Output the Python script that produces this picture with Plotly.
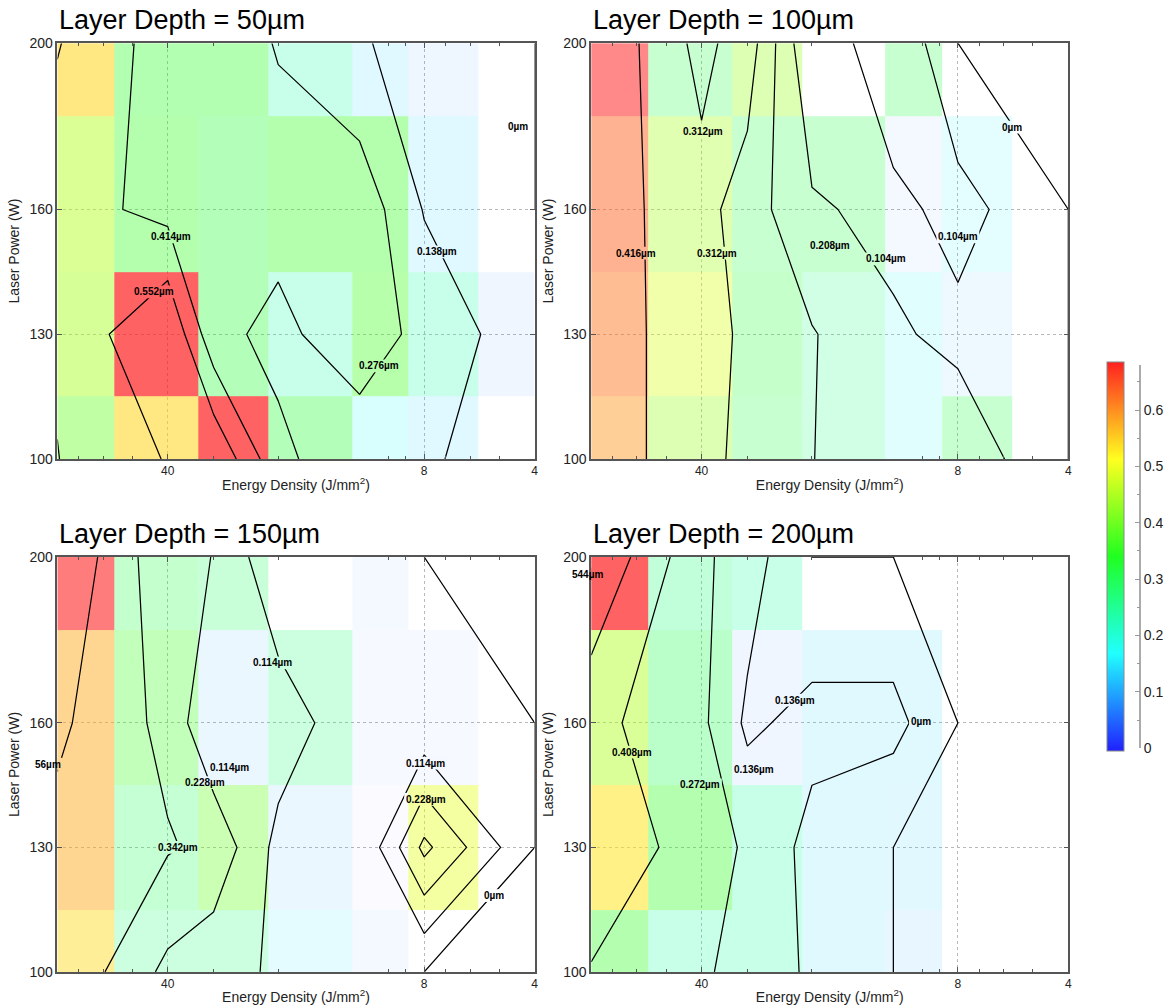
import numpy as np
import plotly.graph_objects as go

# ---------------------------------------------------------------------------
# Data
# ---------------------------------------------------------------------------
# Cell boundaries of the measured map: energy density (J/mm^2), laser power (W)
energy_edges = [80, 56, 33, 21.3, 12.6, 8.85, 5.69, 4]
power_edges = [100, 115, 145, 182.5, 200]

# Node grid of the fitted surface used for the iso-lines
energy_nodes = [80, 40, 30, 20, 12, 8, 4]
power_nodes = [100, 130, 160, 200]

# Measured deviation (µm) per cell; rows = 100, 130, 160, 200 W,
# columns from high to low energy density
cells_50 = [
    [0.40, 0.55, 0.69, 0.33, 0.17, 0.135, 0.00],
    [0.45, 0.69, 0.33, 0.24, 0.37, 0.24, 0.07],
    [0.46, 0.36, 0.33, 0.36, 0.36, 0.135, 0.00],
    [0.55, 0.35, 0.35, 0.24, 0.135, 0.074, 0.00],
]
cells_100 = [
    [0.45, 0.33, 0.24, 0.20, 0.135, 0.24, 0.00],
    [0.47, 0.37, 0.25, 0.20, 0.135, 0.08, 0.00],
    [0.48, 0.34, 0.24, 0.24, 0.05, 0.12, 0.00],
    [0.52, 0.24, 0.33, 0.00, 0.24, 0.00, 0.00],
]
cells_150 = [
    [0.45, 0.23, 0.23, 0.12, 0.05, 0.00, 0.00],
    [0.48, 0.25, 0.33, 0.09, 0.02, 0.41, 0.00],
    [0.48, 0.30, 0.09, 0.23, 0.04, 0.04, 0.00],
    [0.57, 0.26, 0.24, 0.00, 0.05, 0.00, 0.00],
]
cells_200 = [
    [0.35, 0.24, 0.24, 0.135, 0.10, 0.00, 0.00],
    [0.53, 0.35, 0.24, 0.135, 0.13, 0.00, 0.00],
    [0.45, 0.30, 0.07, 0.135, 0.135, 0.00, 0.00],
    [0.68, 0.27, 0.24, 0.00, 0.00, 0.00, 0.00],
]

# Fitted surface (µm) at the node grid; rows = 100, 130, 160, 200 W
surface_50 = [
    [0.411, 0.561, 0.683, 0.31, 0.175, 0.17, 0.00],
    [0.43, 0.69, 0.317, 0.237, 0.37, 0.225, 0.055],
    [0.478, 0.37, 0.35, 0.33, 0.368, 0.13, 0.00],
    [0.56, 0.35, 0.35, 0.268, 0.144, 0.114, 0.00],
]
surface_100 = [
    [0.45, 0.382, 0.25, 0.21, 0.15, 0.18, 0.00],
    [0.47, 0.362, 0.288, 0.215, 0.12, 0.075, 0.00],
    [0.478, 0.349, 0.26, 0.12, 0.07, 0.145, 0.00],
    [0.52, 0.28, 0.37, 0.00, 0.205, 0.00, 0.00],
]
surface_150 = [
    [0.45, 0.20, 0.15, 0.10, 0.05, 0.00, 0.00],
    [0.42, 0.352, 0.312, 0.08, 0.00, 0.37, 0.00],
    [0.479, 0.31, 0.12, 0.177, 0.037, 0.026, 0.00],
    [0.57, 0.258, 0.226, 0.02, 0.03, 0.00, 0.00],
]
surface_200 = [
    [0.40, 0.30, 0.20, 0.12, 0.00, 0.00, 0.00],
    [0.50, 0.35, 0.25, 0.092, 0.00, 0.00, 0.00],
    [0.45, 0.30, 0.11, 0.18, 0.18, 0.00, 0.00],
    [0.68, 0.30, 0.20, 0.00, 0.00, 0.00, 0.00],
]

# Iso-line label anchors: (energy density, laser power, text[, anchor])
labels_50 = [(39.2, 153.4, "0.414µm"), (43.6, 140.2, "0.552µm"),
             (7.37, 149.8, "0.138µm"), (10.6, 122.4, "0.276µm"),
             (4.43, 179.9, "0µm")]
labels_100 = [(39.7, 178.8, "0.312µm"), (60.5, 149.5, "0.416µm"),
              (36.4, 149.5, "0.312µm"), (17.9, 151.4, "0.208µm"),
              (12.6, 148.1, "0.104µm"), (8.0, 153.4, "0.104µm"),
              (5.68, 179.8, "0µm")]
labels_150 = [(20.7, 174.5, "0.114µm"), (27.1, 149.2, "0.114µm"),
              (31.7, 145.6, "0.228µm"), (37.5, 130.0, "0.342µm"),
              (77.6, 150.1, "56µm", "right"), (7.93, 150.3, "0.114µm"),
              (7.93, 141.6, "0.228µm"), (5.15, 118.4, "0µm")]
labels_200 = [(73.9, 195.9, "544µm", "right"), (62.0, 153.0, "0.408µm"),
              (40.3, 145.1, "0.272µm"), (28.8, 148.7, "0.136µm"),
              (22.2, 165.5, "0.136µm"), (10.1, 160.3, "0µm")]

titles = ["Layer Depth = 50µm", "Layer Depth = 100µm",
          "Layer Depth = 150µm", "Layer Depth = 200µm"]

# ---------------------------------------------------------------------------
# Styling helpers
# ---------------------------------------------------------------------------
FONT = "Liberation Sans, Arial, sans-serif"
LABEL_SIZE = 10
CBAR_MAX = 0.68
PEAK_ALPHA = 0.7

RAINBOW = [(0.0, (32, 32, 255)), (0.25, (32, 255, 255)), (0.5, (32, 255, 32)),
           (0.75, (255, 255, 32)), (1.0, (255, 32, 32))]


def rainbow(t):
    t = min(max(t, 0.0), 1.0)
    for (t0, c0), (t1, c1) in zip(RAINBOW[:-1], RAINBOW[1:]):
        if t <= t1:
            f = (t - t0) / (t1 - t0)
            return tuple(int(round(a + (b - a) * f)) for a, b in zip(c0, c1))
    return RAINBOW[-1][1]


def cell_alpha(value):
    return PEAK_ALPHA * min(value / CBAR_MAX, 1.0)


def faded_scale(zmax, n=26):
    """Rainbow scale over 0..zmax whose opacity grows with the value."""
    out = []
    for t in np.linspace(0, 1, n):
        r, g, b = rainbow(t)
        out.append([float(t), f"rgba({r},{g},{b},{cell_alpha(t * zmax):.3f})"])
    return out


def flat_colour(value, zmax):
    """The cell colour as it appears over the white plot background."""
    r, g, b = rainbow(value / zmax)
    a = cell_alpha(value)
    return "rgb(%d,%d,%d)" % tuple(int(round(255 * (1 - a) + c * a))
                                   for c in (r, g, b))


# Bold label glyph widths (em)
GLYPH_EM = {".": 0.278, "µ": 0.611, "m": 0.889}


def text_px(txt):
    return LABEL_SIZE * sum(GLYPH_EM.get(c, 0.556) for c in txt)


solid_scale = [[float(t), "rgb(%d,%d,%d)" % rainbow(t)]
               for t in np.linspace(0, 1, 21)]

# Page geometry (pixels from the top-left corner)
W, H = 1170, 1005
PANEL_X = [(57.5, 536.5), (593.2, 1072.0)]
PANEL_Y = [(35.7, 458.3), (557.9, 979.5)]     # (top, bottom)
TITLE_GAP = 23.4
CBAR_LEFT, CBAR_AXIS = 1110.8, 1143.2
CBAR_TOP, CBAR_BOTTOM = 362.8, 752.2

X_LOG = (np.log10(4), np.log10(80))
PX_PER_DECADE = (PANEL_X[0][1] - PANEL_X[0][0]) / (X_LOG[1] - X_LOG[0])
PX_PER_WATT = (PANEL_Y[0][1] - PANEL_Y[0][0]) / 100.0


def fx(px):
    return px / W


def fy(py):
    return 1 - py / H


def label_patches(ex, pw, txt, anchor, cells, zmax, xa, ya):
    """Background pieces behind a label, one per map cell it overlaps."""
    width = (text_px(txt) + 3) / PX_PER_DECADE
    cx = np.log10(ex)
    if anchor == "right":          # reversed axis: text extends to larger x
        lo_x, hi_x = cx, cx + width
    else:
        lo_x, hi_x = cx - width / 2, cx + width / 2
    hh = 6.5 / PX_PER_WATT
    x_lo, x_hi = max(lo_x, X_LOG[0]), min(hi_x, X_LOG[1])
    y_lo, y_hi = max(pw - hh, 100), min(pw + hh, 200)
    log_edges = np.log10(energy_edges)
    out = []
    for j in range(len(energy_edges) - 1):
        lo, hi = max(log_edges[j + 1], x_lo), min(log_edges[j], x_hi)
        if lo >= hi:
            continue
        for k in range(len(power_edges) - 1):
            lo2, hi2 = max(power_edges[k], y_lo), min(power_edges[k + 1], y_hi)
            if lo2 >= hi2:
                continue
            # shapes on a log axis take plain data values
            out.append(dict(type="rect", xref=xa, yref=ya,
                            x0=float(10 ** lo), x1=float(10 ** hi),
                            y0=lo2, y1=hi2, layer="above",
                            fillcolor=flat_colour(cells[k][j], zmax),
                            line=dict(width=0)))
    return out


xdom = [(fx(a), fx(b)) for a, b in PANEL_X]
ydom = [(fy(b), fy(t)) for t, b in PANEL_Y]

cells = [cells_50, cells_100, cells_150, cells_200]
surfaces = [surface_50, surface_100, surface_150, surface_200]
labels = [labels_50, labels_100, labels_150, labels_200]

fig = go.Figure()
annotations = []
shapes = []

for i in range(4):
    suffix = "" if i == 0 else str(i + 1)
    xa, ya = "x" + suffix, "y" + suffix
    cmax = float(np.max(cells[i]))
    smax = float(np.max(surfaces[i]))
    step = smax / 5.0

    fig.add_trace(go.Heatmap(
        x=energy_edges, y=power_edges, z=cells[i], zmin=0, zmax=cmax,
        colorscale=faded_scale(cmax), showscale=False,
        xaxis=xa, yaxis=ya, hoverinfo="skip"))

    fig.add_trace(go.Contour(
        x=energy_nodes, y=power_nodes, z=surfaces[i],
        contours=dict(start=0, end=smax - step / 2, size=step,
                      coloring="none", showlabels=False),
        line=dict(color="black", width=1.25, smoothing=0),
        showscale=False, xaxis=xa, yaxis=ya, hoverinfo="skip"))

    for lab in labels[i]:
        ex, pw, txt = lab[:3]
        anchor = lab[3] if len(lab) > 3 else "center"
        shapes.extend(label_patches(ex, pw, txt, anchor, cells[i], cmax,
                                    xa, ya))
        annotations.append(dict(
            x=float(np.log10(ex)), y=pw, xref=xa, yref=ya, xanchor=anchor,
            text="<b>%s</b>" % txt, showarrow=False, borderpad=0,
            font=dict(family=FONT, size=LABEL_SIZE, color="black")))

    col, row = i % 2, i // 2
    annotations.append(dict(
        x=xdom[col][0], y=fy(PANEL_Y[row][0] - TITLE_GAP),
        xref="paper", yref="paper", xanchor="left", yanchor="middle",
        text=titles[i], showarrow=False,
        font=dict(family=FONT, size=27, color="black")))

    axis_common = dict(showline=True, linecolor="#555", linewidth=1.5,
                       mirror="ticks", ticks="inside", tickcolor="#555",
                       ticklen=5, showgrid=True, gridcolor="#b8b8b8",
                       griddash="dot", gridwidth=1, zeroline=False)
    fig.layout["xaxis" + suffix] = dict(
        axis_common, type="log", domain=xdom[col], anchor=ya,
        range=[X_LOG[1], X_LOG[0]], tickvals=[40, 8, 4],
        ticktext=["40", "8", "4"],
        minor=dict(ticks="inside", ticklen=3, tickcolor="#555", dtick="D1",
                   showgrid=False),
        tickfont=dict(family=FONT, size=12, color="#222"),
        title=dict(text="Energy Density (J/mm<sup>2</sup>)", standoff=3,
                   font=dict(family=FONT, size=14, color="#222")))
    fig.layout["yaxis" + suffix] = dict(
        axis_common, domain=ydom[row], anchor=xa, range=[100, 200],
        tickvals=[100, 130, 160, 200],
        tickfont=dict(family=FONT, size=14, color="#222"),
        title=dict(text="Laser Power (W)", standoff=6,
                   font=dict(family=FONT, size=14, color="#222")))

# Shared colour scale with its own value axis
fig.add_trace(go.Scatter(
    x=[None], y=[None], mode="markers", xaxis="x5", yaxis="y5",
    showlegend=False, hoverinfo="skip",
    marker=dict(color=[0], cmin=0, cmax=CBAR_MAX, colorscale=solid_scale,
                showscale=True,
                colorbar=dict(x=fx(CBAR_LEFT), xanchor="left", xpad=0, ypad=0,
                              y=fy((CBAR_TOP + CBAR_BOTTOM) / 2),
                              yanchor="middle", lenmode="pixels",
                              len=CBAR_BOTTOM - CBAR_TOP, thickness=17,
                              outlinewidth=1, outlinecolor="#888",
                              ticks="", showticklabels=False))))
fig.layout["xaxis5"] = dict(domain=[fx(CBAR_LEFT + 5), fx(CBAR_AXIS)],
                            visible=False, range=[0, 1])
fig.layout["yaxis5"] = dict(
    domain=[fy(CBAR_BOTTOM), fy(CBAR_TOP)], anchor="x5", side="right",
    range=[0, CBAR_MAX], tickvals=[0, 0.1, 0.2, 0.3, 0.4, 0.5, 0.6],
    ticks="inside", ticklen=5, tickcolor="#999", showline=True,
    linecolor="#aaa", linewidth=1.5, showgrid=False, zeroline=False,
    minor=dict(ticks="inside", ticklen=3, tickcolor="#999", dtick=0.05),
    tickfont=dict(family=FONT, size=14, color="#222"))

fig.update_layout(
    width=W, height=H, margin=dict(l=0, r=0, t=0, b=0),
    paper_bgcolor="white", plot_bgcolor="white", showlegend=False,
    annotations=annotations, shapes=shapes, font=dict(family=FONT))

fig.write_html("out.html")
